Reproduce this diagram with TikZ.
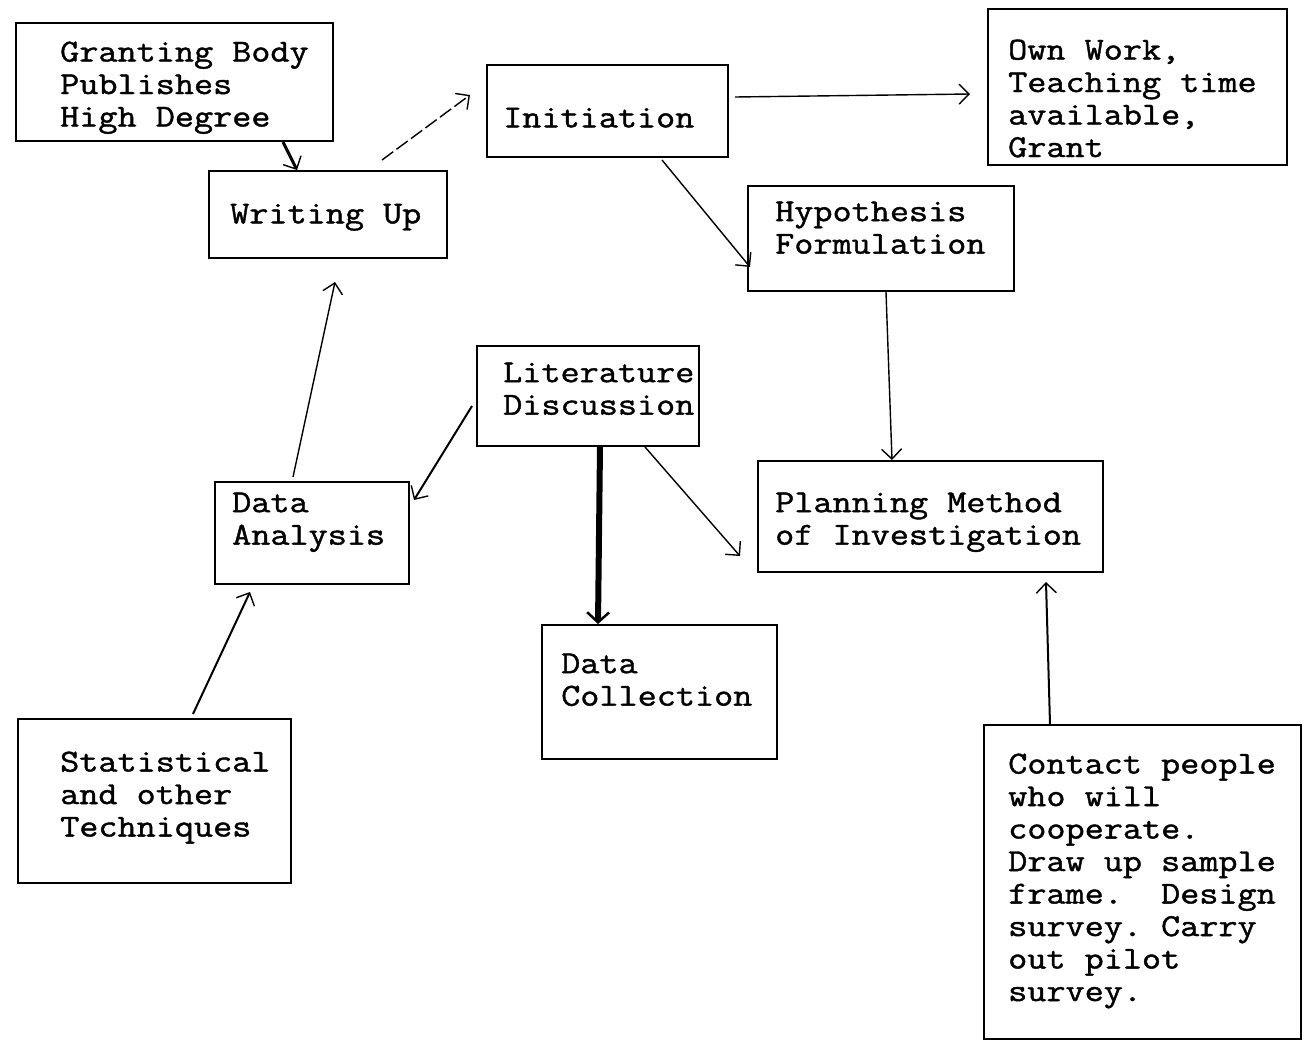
\documentclass[tikz,border=0pt]{standalone}
\usepackage{fontspec}
\setmonofont[FakeStretch=1.16,FakeBold=1.3]{Latin Modern Mono}
\usetikzlibrary{arrows.meta,calc}
\begin{document}
\begin{tikzpicture}[x=1pt,y=-1pt,
  box/.style={draw, line width=2pt, rectangle, inner sep=0pt, anchor=north west},
  txt/.style={anchor=north west, inner sep=0pt, align=left,
    font=\ttfamily\fontsize{32}{32.5}\selectfont, execute at begin node=\strut},
  conn/.style={line width=1.4pt, -{Straight Barb[length=10pt,width=20pt,line width=1.4pt]}},
  thickconn/.style={line width=6pt, -{Straight Barb[length=10pt,width=22pt,line width=2.5pt]}}]
\useasboundingbox (0,0) rectangle (1315,1042);

% boxes
\node[box, minimum width=317pt, minimum height=118pt] (granting) at (15,22) {};
\node[box, minimum width=241pt, minimum height=92pt] (initiation) at (486,64) {};
\node[box, minimum width=299pt, minimum height=156pt] (ownwork) at (987,8) {};
\node[box, minimum width=238pt, minimum height=87pt] (writing) at (208,170) {};
\node[box, minimum width=266pt, minimum height=105pt] (hypo) at (747,185) {};
\node[box, minimum width=222pt, minimum height=100pt] (lit) at (476,345) {};
\node[box, minimum width=194pt, minimum height=102pt] (analysis) at (214,481) {};
\node[box, minimum width=345pt, minimum height=111pt] (planning) at (757,460) {};
\node[box, minimum width=235pt, minimum height=134pt] (collection) at (541,624) {};
\node[box, minimum width=273pt, minimum height=164pt] (stats) at (17,718) {};
\node[box, minimum width=317pt, minimum height=314pt] (contact) at (983,724) {};

% labels
\node[txt] (grantingtext) at (60,41.4) {Granting Body\\Publishes\\High Degree};
\node[txt] (initiationtext) at (503,104.4) {Initiation};
\node[txt] (ownworktext) at (1008,39.4) {Own Work,\\Teaching time\\available,\\Grant};
\node[txt] (writingtext) at (230,200.4) {Writing Up};
\node[txt] (hypotext) at (775,201.4) {Hypothesis\\Formulation};
\node[txt] (littext) at (503,362.4) {Literature\\Discussion};
\node[txt] (analysistext) at (232,492.4) {Data\\Analysis};
\node[txt] (planningtext) at (775,492.4) {Planning Method\\of Investigation};
\node[txt] (collectiontext) at (561,653.4) {Data\\Collection};
\node[txt] (statstext) at (60,751.4) {Statistical\\and other\\Techniques};
\node[txt] (contacttext) at (1008,753.4) {Contact people\\who will\\cooperate.\\Draw up sample\\frame.~ Design\\survey. Carry\\out pilot\\survey.};

% connectors
\draw[conn, line width=3pt] ([xshift=268pt]granting.south west) -- ([xshift=89pt]writing.north west);
\draw[conn, dash pattern=on 14pt off 4pt] ([xshift=174pt,yshift=10pt]writing.north west) -- ([xshift=-16pt,yshift=-31pt]initiation.north west);
\draw[conn] ([xshift=6pt,yshift=14pt]initiation.east) -- ([xshift=-17pt,yshift=-7pt]ownwork.west);
\draw[conn] ([xshift=176pt,yshift=-2pt]initiation.south west) -- ([xshift=3pt,yshift=25pt]hypo.south west);
\draw[conn] ([xshift=139pt]hypo.south west) -- ([xshift=135pt]planning.north west);
\draw[conn, line width=2pt] ([xshift=-4pt,yshift=-10pt]lit.west) -- ([xshift=4pt,yshift=-19pt]analysis.north east);
\draw[thickconn] ([xshift=124pt]lit.south west) -- ([xshift=57pt]collection.north west);
\draw[conn] ([xshift=169pt]lit.south west) -- ([xshift=-17pt,yshift=-96pt]planning.north west);
\draw[conn] ([xshift=79pt,yshift=4pt]analysis.north west) -- ([xshift=127pt,yshift=-23pt]writing.south west);
\draw[conn, line width=2pt] ([xshift=176pt,yshift=4pt]stats.north west) -- ([xshift=36pt,yshift=-7pt]analysis.south west);
\draw[conn, line width=2pt] ([xshift=67pt]contact.north west) -- ([xshift=289pt,yshift=-9pt]planning.south west);
\end{tikzpicture}
\end{document}
